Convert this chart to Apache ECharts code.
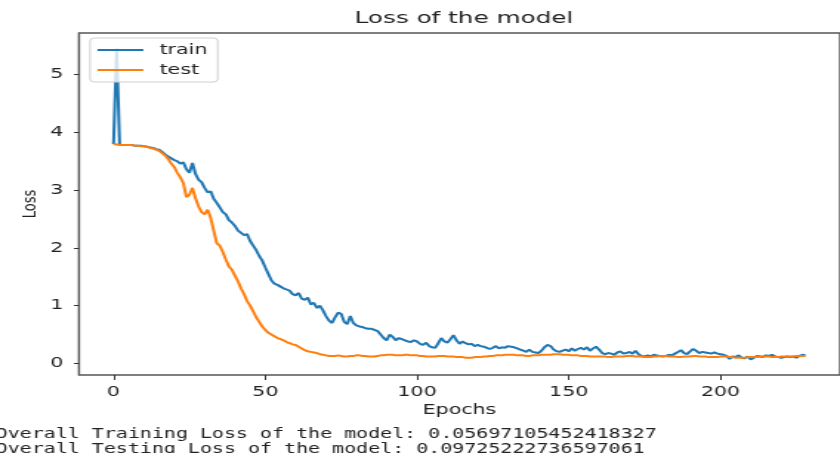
<!DOCTYPE html>
<html>
<head>
<meta charset="utf-8">
<script src="https://cdn.jsdelivr.net/npm/echarts@6/dist/echarts.min.js"></script>
<style>
  html, body { margin: 0; padding: 0; background: #ffffff; overflow: hidden; }
  #wrap { width: 840px; height: 453px; overflow: hidden; position: relative; }
  #chart { width: 568px; height: 453px; transform: scaleX(1.478873); transform-origin: 0 0; }
</style>
</head>
<body>
<div id="wrap"><div id="chart"></div></div>
<script>
// ---- data ----
const trainLoss = [
  3.80, 5.45, 3.78,
  3.78, 3.78, 3.78, 3.78, 3.77, 3.77, 3.77, 3.76,
  3.75, 3.74, 3.73, 3.71, 3.70, 3.66, 3.62, 3.58, 3.55, 3.52,
  3.50, 3.46, 3.48, 3.36, 3.30, 3.47, 3.28, 3.18, 3.14, 3.04,
  2.96, 2.98, 2.85, 2.78, 2.70, 2.62, 2.58, 2.48, 2.44, 2.38,
  2.30, 2.26, 2.22, 2.24, 2.12, 2.04, 1.96, 1.86, 1.78, 1.66,
  1.55, 1.44, 1.38, 1.36, 1.33, 1.30, 1.28, 1.26, 1.20, 1.18,
  1.22, 1.12, 1.10, 1.14, 1.02, 1.05, 0.96, 1.00, 0.92, 0.82,
  0.74, 0.70, 0.80, 0.88, 0.86, 0.72, 0.68, 0.82, 0.70, 0.66,
  0.64, 0.63, 0.61, 0.60, 0.60, 0.58, 0.56, 0.50, 0.44, 0.40,
  0.50, 0.46, 0.40, 0.44, 0.42, 0.40, 0.38, 0.37, 0.40, 0.38,
  0.34, 0.32, 0.36, 0.30, 0.28, 0.27, 0.35, 0.44, 0.38, 0.36,
  0.42, 0.49, 0.40, 0.34, 0.38, 0.35, 0.33, 0.34, 0.30, 0.32,
  0.30, 0.29, 0.27, 0.25, 0.27, 0.30, 0.26, 0.28, 0.27, 0.30,
  0.29, 0.28, 0.26, 0.24, 0.22, 0.20, 0.24, 0.20, 0.19, 0.18,
  0.22, 0.28, 0.32, 0.30, 0.24, 0.21, 0.20, 0.22, 0.24, 0.21,
  0.26, 0.22, 0.25, 0.27, 0.24, 0.28, 0.22, 0.26, 0.29, 0.24,
  0.18, 0.16, 0.18, 0.17, 0.15, 0.19, 0.21, 0.17, 0.18, 0.20,
  0.17, 0.22, 0.16, 0.13, 0.12, 0.14, 0.12, 0.15, 0.14, 0.13,
  0.12, 0.13, 0.15, 0.14, 0.17, 0.20, 0.23, 0.18, 0.16, 0.21,
  0.25, 0.22, 0.18, 0.20, 0.19, 0.18, 0.17, 0.19, 0.17, 0.16,
  0.15, 0.13, 0.08, 0.12, 0.11, 0.14, 0.10, 0.09, 0.12, 0.07,
  0.10, 0.13, 0.12, 0.11, 0.14, 0.13, 0.15, 0.12, 0.11, 0.10,
  0.11, 0.12, 0.11, 0.12, 0.10, 0.13, 0.15, 0.14
];
const testLoss = [
  3.80, 3.79, 3.78,
  3.78, 3.78, 3.78, 3.78, 3.77, 3.77, 3.76, 3.76,
  3.75, 3.73, 3.72, 3.70, 3.68, 3.64, 3.60, 3.54, 3.46, 3.40,
  3.30, 3.22, 3.12, 2.88, 2.92, 3.04, 2.86, 2.72, 2.62, 2.58,
  2.66, 2.52, 2.30, 2.08, 2.04, 1.93, 1.80, 1.68, 1.62, 1.52,
  1.42, 1.30, 1.20, 1.08, 1.00, 0.90, 0.80, 0.72, 0.64, 0.58,
  0.53, 0.50, 0.47, 0.44, 0.42, 0.40, 0.37, 0.35, 0.33, 0.32,
  0.29, 0.26, 0.23, 0.21, 0.20, 0.19, 0.18, 0.16, 0.15, 0.14,
  0.13, 0.13, 0.13, 0.14, 0.13, 0.12, 0.12, 0.13, 0.13, 0.14,
  0.14, 0.13, 0.13, 0.12, 0.12, 0.12, 0.13, 0.14, 0.14, 0.15,
  0.15, 0.15, 0.14, 0.14, 0.14, 0.15, 0.15, 0.14, 0.14, 0.14,
  0.13, 0.13, 0.12, 0.12, 0.12, 0.12, 0.13, 0.13, 0.13, 0.12,
  0.12, 0.12, 0.11, 0.11, 0.11, 0.10, 0.10, 0.10, 0.11, 0.11,
  0.11, 0.12, 0.12, 0.13, 0.13, 0.14, 0.14, 0.14, 0.15, 0.15,
  0.15, 0.15, 0.14, 0.14, 0.14, 0.13, 0.13, 0.14, 0.14, 0.14,
  0.15, 0.15, 0.15, 0.15, 0.16, 0.16, 0.16, 0.15, 0.15, 0.15,
  0.14, 0.14, 0.14, 0.13, 0.13, 0.13, 0.12, 0.12, 0.12, 0.12,
  0.12, 0.12, 0.11, 0.11, 0.12, 0.12, 0.12, 0.12, 0.13, 0.13,
  0.13, 0.12, 0.12, 0.12, 0.11, 0.11, 0.11, 0.12, 0.12, 0.13,
  0.13, 0.13, 0.12, 0.12, 0.12, 0.11, 0.11, 0.12, 0.12, 0.12,
  0.13, 0.13, 0.12, 0.12, 0.12, 0.11, 0.11, 0.11, 0.11, 0.12,
  0.12, 0.12, 0.11, 0.11, 0.10, 0.10, 0.10, 0.10, 0.11, 0.11,
  0.11, 0.11, 0.12, 0.12, 0.12, 0.12, 0.11, 0.11, 0.11, 0.12,
  0.12, 0.12, 0.12, 0.12, 0.13, 0.13, 0.13, 0.13
];
const xTicks = [0, 50, 100, 150, 200];
const yTicks = [0, 1, 2, 3, 4, 5];
const seriesNames = ['train', 'test'];
const titleText = 'Loss of the model';
const xName = 'Epochs';
const yName = 'Loss';
const outputLines = [
  'Overall Training Loss of the model: 0.05697105452418327',
  'Overall Testing Loss of the model: 0.09725222736597061'
];

// ---- chart ----
const toPairs = arr => arr.map((v, i) => [i, v]);
const chart = echarts.init(document.getElementById('chart'), null, { renderer: 'canvas' });
const sans = '"DejaVu Sans", sans-serif';
const lineIcon = 'path://M0,0 L31,0 L31,2 L0,2 Z';
chart.setOption({
  animation: false,
  backgroundColor: '#ffffff',
  title: {
    text: titleText,
    left: 313.7,
    top: 10,
    padding: 0,
    textAlign: 'center',
    textStyle: { fontFamily: sans, fontSize: 16.7, fontWeight: 'normal', color: '#222' }
  },
  legend: {
    orient: 'vertical',
    left: 60.9,
    top: 38,
    padding: [5, 7, 5, 5],
    itemWidth: 31,
    itemHeight: 14,
    itemGap: 6,
    icon: lineIcon,
    backgroundColor: 'rgba(255,255,255,0.8)',
    borderColor: '#d0d0d0',
    borderWidth: 1,
    borderRadius: 3,
    data: seriesNames,
    textStyle: { fontFamily: sans, fontSize: 13.9, color: '#222', padding: [0, 0, 0, 6] }
  },
  grid: {
    left: 53.4,
    top: 33,
    width: 521.3,
    height: 342,
    show: true,
    borderColor: '#555',
    borderWidth: 1.4,
    backgroundColor: 'transparent'
  },
  xAxis: {
    type: 'value',
    min: -11.4,
    max: 239.4,
    name: xName,
    nameLocation: 'middle',
    nameGap: 28,
    nameMoveOverlap: false,
    nameTextStyle: { fontFamily: sans, fontSize: 13.9, color: '#222' },
    axisLine: { show: false, onZero: false },
    splitLine: { show: false },
    axisTick: { show: true, length: 5, lineStyle: { color: '#333', width: 1 }, customValues: xTicks },
    axisLabel: { fontFamily: sans, fontSize: 13.9, color: '#222', margin: 10, customValues: xTicks }
  },
  yAxis: {
    type: 'value',
    min: -0.2,
    max: 5.72,
    name: yName,
    nameLocation: 'middle',
    nameRotate: 90,
    nameGap: 26,
    nameMoveOverlap: false,
    nameTextStyle: { fontFamily: sans, fontSize: 13, color: '#222' },
    axisLine: { show: false, onZero: false },
    splitLine: { show: false },
    axisTick: { show: true, length: 3.4, lineStyle: { color: '#333', width: 1 }, customValues: yTicks },
    axisLabel: { fontFamily: sans, fontSize: 13.9, color: '#222', margin: 10.5, customValues: yTicks }
  },
  graphic: [
    { type: 'text', left: -3, top: 427, style: { text: outputLines[0], font: '13.5px "DejaVu Sans Mono", monospace', fill: '#222' } },
    { type: 'text', left: -3, top: 442, style: { text: outputLines[1], font: '13.5px "DejaVu Sans Mono", monospace', fill: '#222' } }
  ],
  series: [
    {
      name: seriesNames[0], type: 'line', data: toPairs(trainLoss),
      symbol: 'none', lineStyle: { color: '#1f77b4', width: 2 }, itemStyle: { color: '#1f77b4' }, z: 2
    },
    {
      name: seriesNames[1], type: 'line', data: toPairs(testLoss),
      symbol: 'none', lineStyle: { color: '#ff7f0e', width: 2 }, itemStyle: { color: '#ff7f0e' }, z: 3
    }
  ]
});
</script>
</body>
</html>
